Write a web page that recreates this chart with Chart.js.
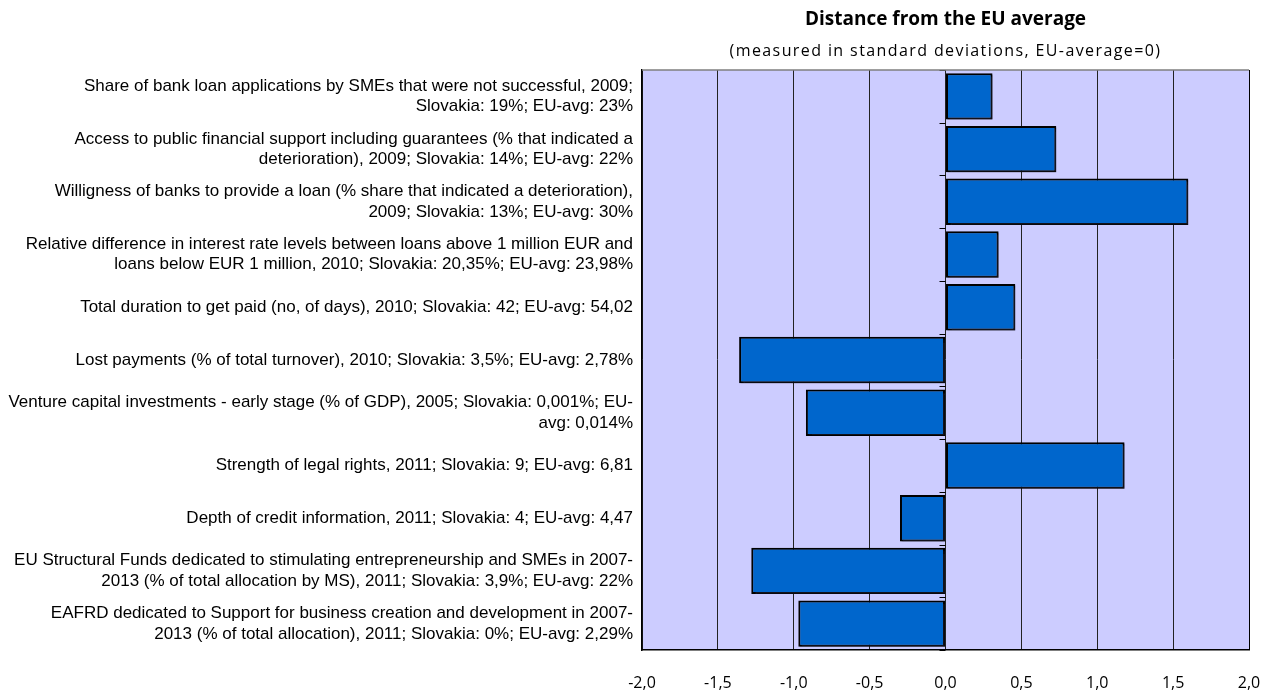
<!DOCTYPE html>
<html>
<head>
<meta charset="utf-8">
<script src="https://cdn.jsdelivr.net/npm/chart.js@4/dist/chart.umd.min.js"></script>
<style>
  html, body { margin: 0; padding: 0; background: #ffffff; }
  #wrap { width: 1274px; height: 693px; position: relative; }
</style>
</head>
<body>
<div id="wrap"><canvas id="c" width="1274" height="693"></canvas></div>
<script>
// Indicator labels (two lines where the text wraps)
const indicators = [
  ["Share of bank loan applications by SMEs that were not successful, 2009;", "Slovakia: 19%; EU-avg: 23%"],
  ["Access to public financial support including guarantees (% that indicated a", "deterioration), 2009; Slovakia: 14%; EU-avg: 22%"],
  ["Willigness of banks to provide a loan (% share that indicated a deterioration),", "2009; Slovakia: 13%; EU-avg: 30%"],
  ["Relative difference in interest rate levels between loans above 1 million EUR and", "loans below EUR 1 million, 2010; Slovakia: 20,35%; EU-avg: 23,98%"],
  "Total duration to get paid (no, of days), 2010; Slovakia: 42; EU-avg: 54,02",
  "Lost payments (% of total turnover), 2010; Slovakia: 3,5%; EU-avg: 2,78%",
  ["Venture capital investments - early stage (% of GDP), 2005; Slovakia: 0,001%; EU-", "avg: 0,014%"],
  "Strength of legal rights, 2011; Slovakia: 9; EU-avg: 6,81",
  "Depth of credit information, 2011; Slovakia: 4; EU-avg: 4,47",
  ["EU Structural Funds dedicated to stimulating entrepreneurship and SMEs in 2007-", "2013 (% of total allocation by MS), 2011; Slovakia: 3,9%; EU-avg: 22%"],
  ["EAFRD dedicated to Support for business creation and development in 2007-", "2013 (% of total allocation), 2011; Slovakia: 0%; EU-avg: 2,29%"]
];

// Distance from the EU average, in standard deviations
const distance = [0.31, 0.73, 1.60, 0.35, 0.46, -1.36, -0.92, 1.18, -0.30, -1.28, -0.97];

// Horizontal axis range and step
const axisMin = -2.0;
const axisMax = 2.0;
const axisStep = 0.5;

const titleText = "Distance from the EU average";
const subtitleText = "(measured in standard deviations, EU-average=0)";

const fmtComma = v => v.toFixed(1).replace(".", ",");

// Plot background, title block centred over the plot area, frame and category ticks on the zero line
const decorations = {
  id: "decorations",
  beforeDraw(chart) {
    const { ctx, chartArea: a } = chart;
    ctx.save();
    ctx.fillStyle = "#ccccff";
    ctx.fillRect(a.left, a.top, a.right - a.left, a.bottom - a.top);
    ctx.restore();
  },
  beforeDatasetsDraw(chart) {
    const { ctx, scales } = chart;
    const x0 = scales.x.getPixelForValue(0);
    ctx.save();
    ctx.strokeStyle = "#000000";
    ctx.lineWidth = 1;
    for (let i = 0; i <= indicators.length; i++) {
      const y = Math.round(scales.y.getPixelForValue(i - 0.5)) + 0.5;
      ctx.beginPath();
      ctx.moveTo(x0 - 6, y);
      ctx.lineTo(x0, y);
      ctx.stroke();
    }
    ctx.restore();
    // soft drop shadow under the bars
    ctx.save();
    ctx.shadowColor = "rgba(40,40,60,0.45)";
    ctx.shadowOffsetX = 1.5;
    ctx.shadowOffsetY = 1.5;
    ctx.shadowBlur = 1;
  },
  afterDatasetsDraw(chart) {
    chart.ctx.restore();
  },
  afterDraw(chart) {
    const { ctx, chartArea: a } = chart;
    ctx.save();
    // frame
    ctx.strokeStyle = "#7f7f7f";
    ctx.lineWidth = 1.5;
    ctx.beginPath();
    ctx.moveTo(a.left, a.top);
    ctx.lineTo(a.right, a.top);
    ctx.stroke();
    ctx.strokeStyle = "#000000";
    ctx.lineWidth = 1;
    ctx.beginPath();
    ctx.moveTo(a.right + 0.5, a.top);
    ctx.lineTo(a.right + 0.5, a.bottom);
    ctx.stroke();
    // titles
    const cx = (a.left + a.right) / 2;
    ctx.fillStyle = "#000000";
    ctx.textAlign = "center";
    ctx.textBaseline = "middle";
    ctx.font = "bold 19px 'Open Sans', 'DejaVu Sans', sans-serif";
    ctx.fillText(titleText, cx, 20);
    ctx.font = "16px 'Open Sans', 'DejaVu Sans', sans-serif";
    ctx.letterSpacing = "1.4px";
    ctx.fillText(subtitleText, cx, 51);
    ctx.restore();
  }
};

new Chart(document.getElementById("c"), {
  type: "bar",
  data: {
    labels: indicators,
    datasets: [{
      data: distance,
      backgroundColor: "#0066cc",
      borderColor: "#000000",
      borderWidth: 2,
      borderSkipped: false,
      barPercentage: 0.88,
      categoryPercentage: 1.0
    }]
  },
  options: {
    indexAxis: "y",
    responsive: false,
    animation: false,
    devicePixelRatio: 1,
    layout: { padding: { top: 70, right: 25, bottom: 0, left: 0 } },
    plugins: {
      legend: { display: false },
      tooltip: { enabled: false },
      title: { display: false }
    },
    scales: {
      x: {
        min: axisMin,
        max: axisMax,
        afterFit(scale) {
          scale.height = 43;
          scale.paddingLeft = 0;
          scale.paddingRight = 0;
        },
        afterBuildTicks(scale) {
          const t = [];
          for (let v = axisMin; v <= axisMax + 1e-9; v += axisStep) t.push({ value: Math.round(v * 10) / 10 });
          scale.ticks = t;
        },
        grid: {
          color: "#222222",
          lineWidth: 1,
          drawTicks: false
        },
        border: { display: true, color: "#000000", width: 1.5 },
        ticks: {
          padding: 24,
          color: "#000000",
          font: { family: "'Open Sans', 'DejaVu Sans', sans-serif", size: 16 },
          callback: v => fmtComma(v),
          maxRotation: 0,
          autoSkip: false
        }
      },
      y: {
        afterFit(scale) { scale.width = 642; },
        grid: { display: false, drawTicks: false },
        border: { display: true, color: "#000000", width: 1.5 },
        ticks: {
          padding: 9,
          color: "#000000",
          autoSkip: false,
          font: { family: "'Liberation Sans', Arial, sans-serif", size: 17, lineHeight: 1.2 }
        }
      }
    }
  },
  plugins: [decorations]
});
</script>
</body>
</html>
